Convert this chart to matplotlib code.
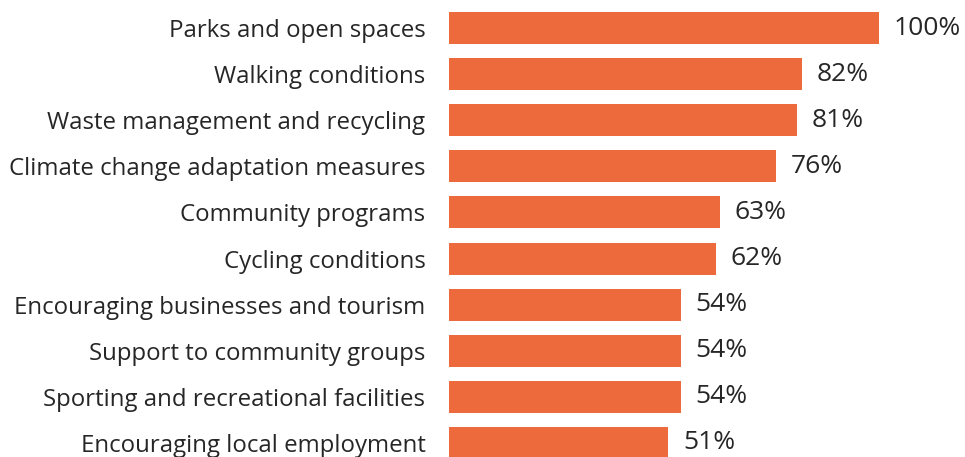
import matplotlib
matplotlib.use("Agg")
import matplotlib.pyplot as plt

categories = [
    "Parks and open spaces",
    "Walking conditions",
    "Waste management and recycling",
    "Climate change adaptation measures",
    "Community programs",
    "Cycling conditions",
    "Encouraging businesses and tourism",
    "Support to community groups",
    "Sporting and recreational facilities",
    "Encouraging local employment",
]
values = [100, 82, 81, 76, 63, 62, 54, 54, 54, 51]

BAR_COLOR = "#ED6A3D"
TEXT_COLOR = "#262626"

plt.rcParams["font.family"] = ["Open Sans", "DejaVu Sans"]

fig = plt.figure(figsize=(9.65, 4.57), dpi=100)
W, H = 965, 457
left_px, right_px = 449, 879
ax = fig.add_axes([left_px / W, 0, (right_px - left_px) / W, 1])

pitch = 46.1
first_center = 28
ypos = list(range(len(categories)))
ax.barh(ypos, values, height=32 / pitch, color=BAR_COLOR, edgecolor="none")

ax.set_xlim(0, 100)
ax.set_ylim((H - first_center) / pitch, -first_center / pitch)

ax.set_yticks(ypos)
ax.set_yticklabels(categories, fontsize=17.3, color=TEXT_COLOR)
ax.tick_params(axis="y", length=0, pad=17)
ax.set_xticks([])
for s in ax.spines.values():
    s.set_visible(False)

for y, v in zip(ypos, values):
    ax.annotate(f"{v}%", xy=(v, y), xytext=(10.5, 0), textcoords="offset points",
                va="center", ha="left", fontsize=19, color=TEXT_COLOR)

fig.savefig("out.png", dpi=100)
